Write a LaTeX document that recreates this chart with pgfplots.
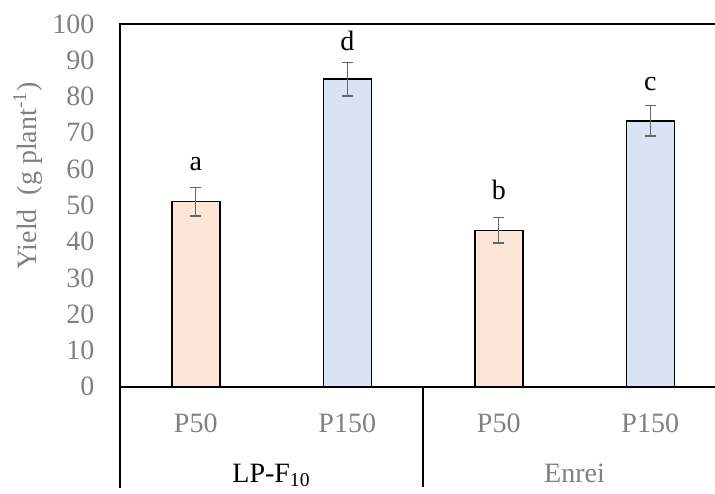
\documentclass[border=0pt]{standalone}
\usepackage{pgfplots}
\pgfplotsset{compat=1.18}
\usepackage{fontspec}
\setmainfont{Liberation Serif}
\definecolor{barorange}{HTML}{FBE5D6}
\definecolor{barblue}{HTML}{DAE3F3}
\definecolor{txtgray}{HTML}{808080}
\definecolor{errgray}{HTML}{666666}
\begin{document}
\begin{tikzpicture}[font=\fontsize{14pt}{17pt}\selectfont]
\begin{axis}[
  at={(60pt,53.15pt)}, anchor=south west,
  scale only axis, width=303pt, height=181.35pt,
  xmin=-0.5, xmax=3.5, ymin=0, ymax=100,
  ytick={0,10,...,100},
  xtick={0,1,2,3},
  xticklabels={P50,P150,P50,P150},
  major tick length=0pt,
  tick style={draw=none},
  /pgf/number format/assume math mode=true,
  tick label style={font=\fontsize{14pt}{17pt}\selectfont, text=txtgray},
  yticklabel style={xshift=-9.3pt},
  xticklabel style={anchor=base, yshift=-22.65pt},
  axis line style={line width=0.8pt, black},
  ybar, bar width=24pt, bar shift=0pt,
  clip=false,
]
\addplot[fill=barorange, draw=black, line width=0.75pt,
  error bars/.cd, y dir=both, y explicit,
  error bar style={errgray, line width=0.7pt},
  error mark options={rotate=90, mark size=2.8pt, errgray, line width=0.7pt}]
  coordinates {(0,51.0) +- (0,3.95) (2,43.1) +- (0,3.5)};
\addplot[fill=barblue, draw=black, line width=0.75pt,
  error bars/.cd, y dir=both, y explicit,
  error bar style={errgray, line width=0.7pt},
  error mark options={rotate=90, mark size=2.8pt, errgray, line width=0.7pt}]
  coordinates {(1,84.8) +- (0,4.6) (3,73.3) +- (0,4.2)};
\node[anchor=base] at (axis cs:0,59.6) {a};
\node[anchor=base] at (axis cs:1,92.6) {d};
\node[anchor=base] at (axis cs:2,51.5) {b};
\node[anchor=base] at (axis cs:3,81.6) {c};
\draw[line width=0.8pt] (axis cs:-0.5,0) -- ([yshift=-50.65pt]axis cs:-0.5,0);
\draw[line width=0.8pt] (axis cs:1.5,0) -- ([yshift=-50.15pt]axis cs:1.5,0);
\node[anchor=base, yshift=-47.65pt] at (axis cs:0.5,0) {LP-F\textsubscript{10}};
\node[anchor=base, yshift=-47.65pt, text=txtgray] at (axis cs:2.5,0) {Enrei};
\end{axis}
\node[rotate=90, text=txtgray] at (14pt,158.5pt) {Yield\ \ (g plant\textsuperscript{-1})};
\pgfresetboundingbox
\path[use as bounding box] (0,0) rectangle (357.5pt,246.5pt);
\end{tikzpicture}
\end{document}
